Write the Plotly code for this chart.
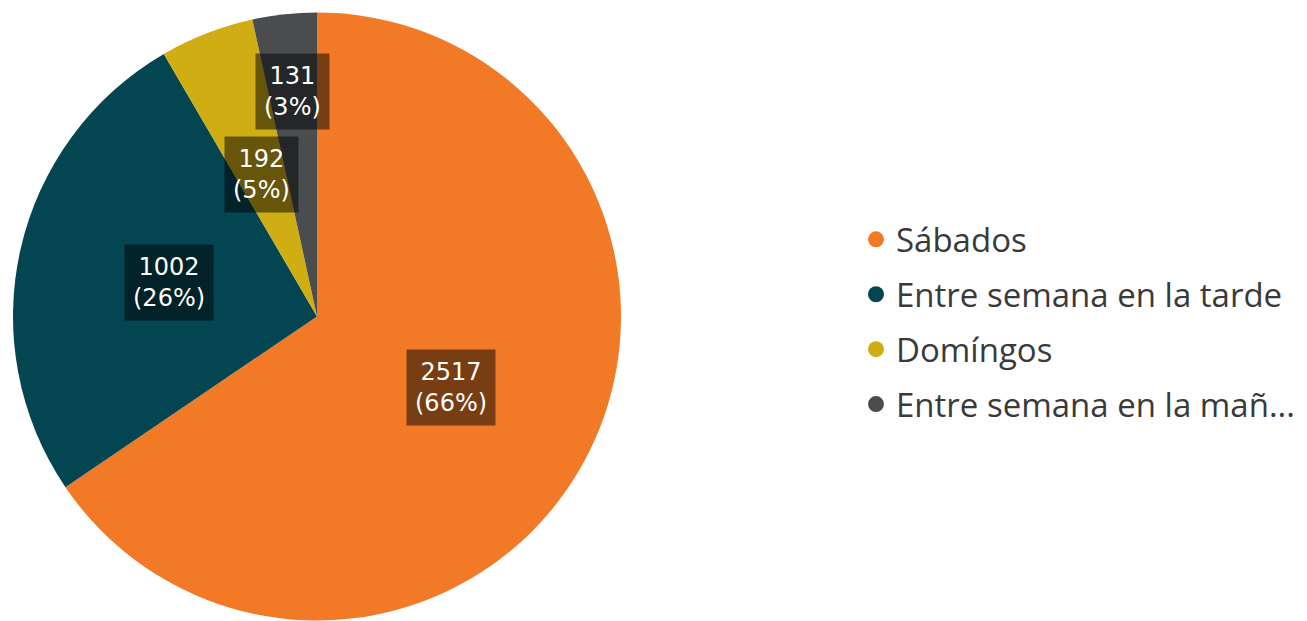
import math
import plotly.graph_objects as go

categories = ["Sábados", "Entre semana en la tarde", "Domíngos", "Entre semana en la mañana"]
legend_names = ["Sábados", "Entre semana en la tarde", "Domíngos", "Entre semana en la mañ..."]
values = [2517, 1002, 192, 131]

colors = ["#F27A26", "#034550", "#CFAD13", "#4B4C4E"]
label_r = [0.5, 0.5, 0.5, 0.745]

W, H = 1307, 621
dom_x = [0.00383, 0.4690]
dom_y = [0.0137, 0.9928]

fig = go.Figure()
fig.add_trace(go.Pie(
    labels=categories, values=values, sort=False, direction="clockwise", rotation=0,
    marker=dict(colors=colors, line=dict(width=0)), textinfo="none", hoverinfo="label+value+percent",
    showlegend=False, domain=dict(x=dom_x, y=dom_y)
))

# pie geometry in pixels
cx = (dom_x[0] + dom_x[1]) / 2 * W
cy_b = (dom_y[0] + dom_y[1]) / 2 * H
R = min((dom_x[1] - dom_x[0]) * W, (dom_y[1] - dom_y[0]) * H) / 2
total = sum(values)
cum = 0
for i, v in enumerate(values):
    mid = (cum + v / 2) / total * 2 * math.pi
    cum += v
    px = cx + label_r[i] * R * math.sin(mid)
    py = cy_b + label_r[i] * R * math.cos(mid)
    pct = round(100 * v / total)
    fig.add_annotation(
        x=px / W, y=py / H, xref="paper", yref="paper",
        xanchor="center", yanchor="middle",
        text=f"{v}<br>({pct}%)", showarrow=False,
        font=dict(family="DejaVu Sans", size=24, color="white"),
        bgcolor="rgba(0,0,0,0.5)", borderpad=8, align="center",
    )

for i, name in enumerate(legend_names):
    fig.add_trace(go.Scatter(
        x=[None], y=[None], mode="markers", name=name,
        marker=dict(color=colors[i], size=16, symbol="circle"),
        legendgroup=f"g{i}", showlegend=True,
    ))

fig.update_layout(
    width=W, height=H, margin=dict(l=0, r=0, t=0, b=0),
    paper_bgcolor="white", plot_bgcolor="white",
    xaxis=dict(visible=False), yaxis=dict(visible=False),
    legend=dict(x=848 / W, y=0.4945, xanchor="left", yanchor="middle",
                font=dict(family="Open Sans", size=33, color="#3a3a3a"),
                tracegroupgap=9, itemclick=False),
)

fig.write_html("out.html")
